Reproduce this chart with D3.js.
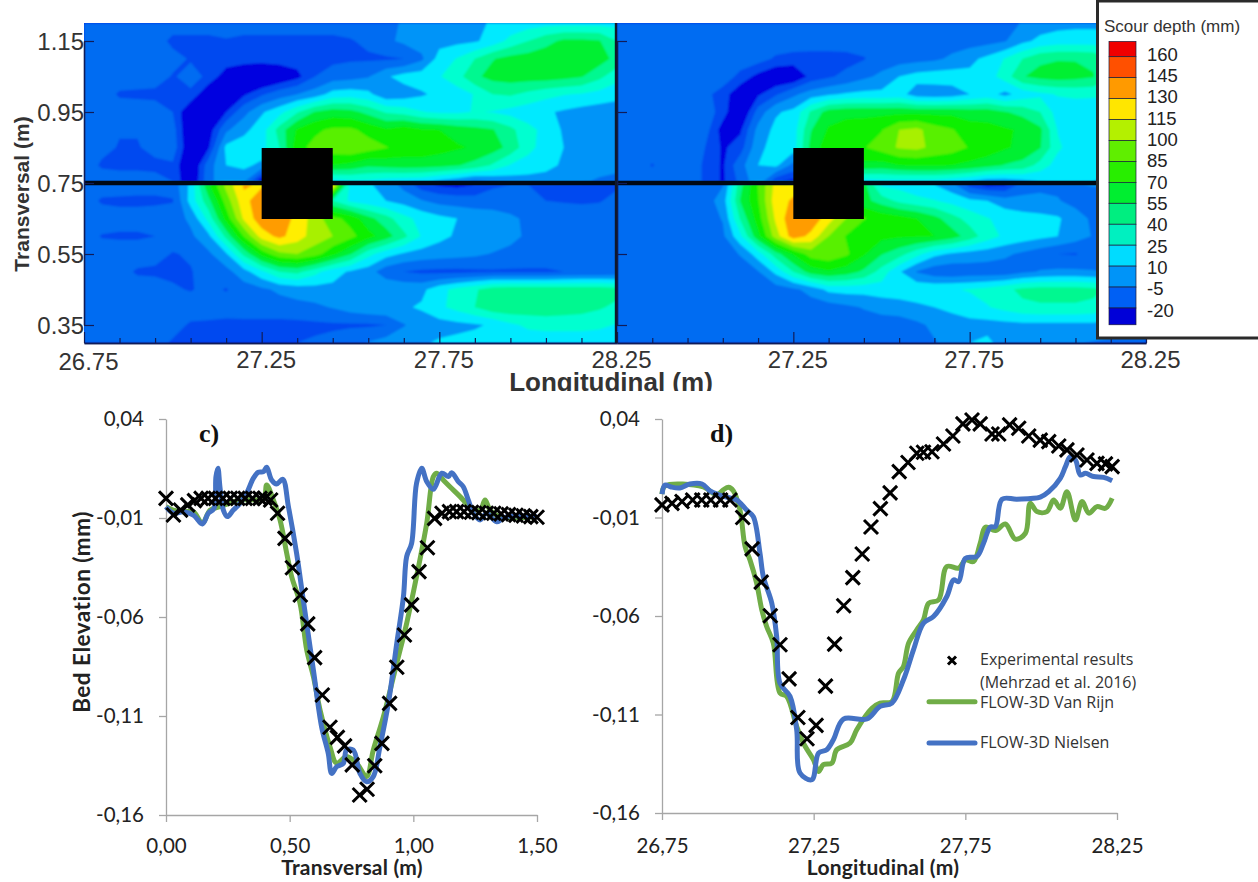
<!DOCTYPE html>
<html>
<head>
<meta charset="utf-8">
<script src="https://cdn.jsdelivr.net/npm/d3@7"></script>
<style>
  html, body { margin: 0; padding: 0; background: #fff; }
  svg { display: block; }
</style>
</head>
<body>
<div id="my_dataviz"></div>
<script>
// Scour maps: grid columns (m), grid rows (m) and depth values (mm)
const longCols = [26.75,26.80,26.85,26.90,26.95,27.00,27.05,27.10,27.15,27.20,27.25,27.30,27.35,27.40,27.45,27.50,27.55,27.60,27.65,27.70,27.75,27.80,27.85,27.90,27.95,28.00,28.05,28.10,28.15,28.20,28.25];
const transRows = [1.20,1.15,1.10,1.05,1.00,0.95,0.90,0.85,0.80,0.755,0.745,0.70,0.65,0.60,0.55,0.50,0.45,0.40,0.35,0.30];

const scourLeft = [
  [-12,-12,-12,-12,-12,-14,-14,-14,-14,-14,-14,-14,-14,-14,-14,-14,-14,-10,-3,2,5,7,8,11,14,18,20,20,20,20,20],
  [-12,-12,-12,-12,-14,-23,-23,-23,-21,-23,-23,-23,-23,-23,-23,-21,-17,-8,-2,2,5,6,8,16,30,40,50,58,58,56,40],
  [-12,-12,-12,-12,-14,-16,-21,-23,-24,-25,-26,-26,-26,-26,-24,-22,-22,-22,-20,-8,16,26,40,54,60,62,64,64,64,62,50],
  [-12,-12,-12,-12,-14,-21,-16,-22,-40,-48,-50,-44,-36,-20,-12,-10,-6,8,16,18,24,34,52,60,62,62,62,60,56,44,30],
  [-12,-12,-22,-23,-23,-22,-22,-44,-48,-34,-22,-12,-5,2,16,18,14,-1,2,8,14,18,26,40,42,36,30,26,24,20,16],
  [-12,-12,-12,-12,-14,-20,-46,-48,-32,-10,8,20,38,56,62,60,50,38,34,26,22,22,26,24,20,16,12,8,4,2,0],
  [-12,-16,-19,-19,-18,-14,-48,-40,-8,6,18,46,72,82,88,88,80,72,78,72,70,64,60,56,44,30,20,8,2,-3,-3],
  [-12,-16,-21,-21,-16,-12,-46,-34,14,18,20,40,80,90,94,98,92,86,80,80,76,72,68,62,50,30,18,10,6,-1,-3],
  [-12,-22,-23,-23,-23,-22,-50,-12,10,14,6,30,40,70,70,66,58,60,62,62,60,56,50,38,24,18,14,8,4,4,-2],
  [-12,-12,-14,-14,-16,-20,-48,-10,6,-2,-44,-36,0,0,18,22,22,18,16,14,6,0,-10,-4,2,4,4,2,-2,-8,-8],
  [-12,-12,-12,-14,-14,-14,14,68,105,132,128,130,130,130,130,18,12,4,-10,-28,-34,-36,-32,-22,-20,-20,-22,-24,-24,-24,-22],
  [-12,-22,-23,-23,-23,-21,16,50,92,126,138,135,120,90,40,22,16,10,4,-4,-10,-12,-14,-14,-14,-16,-20,-21,-22,-21,-16],
  [-12,-12,-14,-14,-12,-12,-2,30,76,118,140,140,125,108,90,80,60,46,30,20,14,10,6,4,-2,-8,-10,-12,-12,-12,-12],
  [-12,-21,-22,-22,-20,-12,-8,6,44,86,122,134,122,108,100,90,76,62,44,24,14,8,6,6,0,-8,-10,-12,-12,-12,-12],
  [-12,-12,-12,-12,-14,-21,-18,-8,8,44,76,96,100,92,74,56,30,16,8,4,2,0,-2,-6,-10,-12,-12,-12,-13,-18,-16],
  [-12,-12,-14,-22,-23,-23,-21,-13,-10,4,22,40,44,30,16,8,2,-14,-20,-23,-24,-24,-23,-22,-22,-22,-22,-20,-18,-18,-16],
  [-12,-12,-12,-12,-12,-18,-21,-16,-21,-12,-8,-2,2,4,6,8,8,8,6,6,20,30,38,48,50,50,50,50,50,50,46],
  [-12,-12,-12,-12,-12,-12,-12,-12,-13,-12,-12,-12,-10,-8,-4,2,6,8,8,12,22,30,40,50,52,50,50,48,46,42,36],
  [-12,-12,-12,-12,-12,-14,-22,-23,-24,-24,-24,-24,-24,-23,-22,-22,-22,-20,-6,2,4,6,8,12,22,28,30,30,30,28,24],
  [-12,-12,-12,-12,-14,-22,-23,-24,-24,-23,-22,-22,-20,-18,-16,-10,-4,2,4,8,12,14,16,16,16,16,16,16,16,16,16]
];

const scourRight = [
  [-12,-12,-12,-12,-12,-12,-12,-12,-12,-12,-12,-12,-12,-12,-12,-12,-12,-12,-12,-12,-12,-12,-10,-4,2,4,6,6,6,4,4],
  [-12,-12,-12,-12,-12,-12,-12,-12,-12,-12,-12,-12,-12,-12,-12,-12,-12,-12,-12,-12,-12,-10,-6,6,14,18,18,18,16,14,12],
  [-12,-12,-12,-12,-12,-12,-12,-12,-14,-22,-25,-26,-26,-25,-21,-12,-12,-10,-8,-2,6,14,26,40,52,54,54,52,40,26,20],
  [-12,-12,-12,-12,-12,-12,-12,-24,-36,-44,-44,-28,-22,-16,-8,-2,10,16,18,18,14,18,32,54,60,62,60,56,40,26,18],
  [-12,-12,-12,-12,-12,-16,-26,-42,-34,-22,-8,2,8,12,14,14,16,2,0,2,10,16,6,16,22,26,28,28,26,22,18],
  [-12,-12,-12,-12,-12,-12,-26,-48,-14,8,14,42,62,66,66,66,66,66,66,66,62,62,56,50,40,18,16,14,12,10,10],
  [-12,-12,-12,-12,-12,-14,-38,-34,0,14,18,54,72,76,78,84,100,104,92,86,78,76,72,68,58,24,16,14,14,12,10],
  [-12,-12,-12,-12,-12,-20,-34,-26,6,16,18,60,80,84,84,92,102,104,96,92,84,80,72,66,56,28,16,14,14,12,10],
  [-12,-12,-21,-12,-12,-22,-34,-10,10,14,-10,40,60,64,66,64,70,72,72,70,66,60,54,50,34,18,16,14,12,10,10],
  [-12,-12,-12,-12,-12,-22,-34,-16,6,-30,-36,-20,0,8,18,20,20,20,20,16,10,2,2,6,10,12,12,10,8,8,8],
  [-12,-12,-12,-12,-12,-12,-6,50,86,120,124,124,124,124,60,22,20,14,10,0,-26,-36,-34,-14,-10,-8,-6,-4,-4,-4,-4],
  [-12,-12,-12,-12,-12,-12,2,56,84,124,132,130,125,100,60,48,36,30,26,20,14,10,2,0,0,-4,-10,-12,-12,-12,-12],
  [-12,-12,-12,-12,-12,-12,-4,42,78,118,142,140,122,100,86,80,76,70,60,46,34,26,20,16,14,12,2,-8,-12,-12,-12],
  [-12,-12,-12,-12,-12,-12,-8,22,66,108,138,126,100,84,76,74,72,72,70,62,48,32,22,18,14,10,2,-6,-12,-12,-12],
  [-12,-12,-12,-12,-12,-12,-12,-4,18,48,72,92,96,88,72,56,46,30,14,8,4,2,-2,-8,-14,-20,-21,-14,-12,-12,-12],
  [-12,-12,-12,-12,-12,-12,-12,-12,-6,14,40,62,68,62,52,34,12,-6,-14,-16,-14,-14,-14,-8,-4,-2,-2,-4,-6,-8,-8],
  [-12,-12,-12,-12,-12,-12,-12,-12,-12,-12,-8,0,14,16,16,18,20,22,22,24,26,30,36,44,46,46,46,44,36,24,14],
  [-12,-12,-12,-12,-12,-12,-12,-12,-12,-12,-12,-12,-12,-8,-4,0,2,6,10,14,20,24,30,36,38,38,38,36,26,16,8],
  [-12,-12,-12,-12,-12,-12,-12,-12,-12,-12,-12,-12,-12,-12,-12,-12,-12,-8,-2,2,4,4,5,6,6,6,6,6,4,4,4],
  [-12,-12,-12,-12,-12,-12,-12,-12,-12,-12,-12,-12,-12,-12,-12,-12,-12,-12,-6,0,10,14,2,-1,-2,-3,-4,-6,-8,-10,-12]
];

// Legend levels and colours of the map, from the deepest band up
const legendLevels = [160,145,130,115,100,85,70,55,40,25,10,-5,-20];
const legendColors = ["#f00000","#ff5000","#ff9a00","#ffe600","#b4f000","#60ee00","#28ee00","#00ee30","#00ee80","#00f0c0","#00dcff","#0094f8","#0060f4","#0000d8"];
const mapThresholds = [-32,-20,-5,10,25,40,55,70,85,100,115,130,145,160];
const mapColors = ["#0000e0","#0048f0","#006cf2","#0094f8","#00eaff","#00ffd0","#00f890","#00f030","#10f000","#58f000","#a8f000","#ffee00","#ff9c00","#ff5000","#f00000"];

const mapLongTicks = [26.75,27.25,27.75,28.25];
const mapLongMinor = [26.85,26.95,27.05,27.15,27.35,27.45,27.55,27.65,27.85,27.95,28.05,28.15];
const mapTransTicks = [1.15,0.95,0.75,0.55,0.35];

// Profile c): experimental marks, Van Rijn and Nielsen curves
const cExpX = [0,.03,.059,.088,.115,.142,.17,.20,.23,.26,.29,.32,.35,.38,.40,.423,.451,.481,.511,.543,.573,.601,.632,.663,.693,.722,.753,.783,.813,.844,.873,.904,.933,.964,.993,1.023,1.057,1.086,1.116,1.146,1.175,1.205,1.235,1.265,1.295,1.325,1.355,1.385,1.415,1.445,1.475,1.50];
const cExpY = [-.0001,-.0085,-.006,-.0034,-.0012,-.0001,-.0001,-.0001,-.0001,-.0001,-.0001,-.0001,-.0001,-.0001,-.0001,-.0009,-.0076,-.0203,-.0351,-.0489,-.0635,-.0805,-.0994,-.1157,-.1208,-.1251,-.1347,-.1499,-.147,-.1351,-.1238,-.1036,-.0854,-.0691,-.0539,-.0371,-.025,-.0102,-.0076,-.0068,-.0068,-.0068,-.0071,-.0073,-.0076,-.0076,-.0079,-.0083,-.0086,-.0089,-.0093,-.0096];
const cGreenX = [0,.03,.07,.111,.147,.178,.218,.299,.394,.407,.434,.461,.488,.508,.542,.569,.596,.623,.663,.69,.73,.771,.811,.838,.879,.933,.973,1.013,1.054,1.081,1.094,1.121,1.148,1.189,1.229,1.27,1.29,1.31,1.35,1.499];
const cGreenY = [-.0043,-.006,-.0068,-.0068,-.0127,-.006,-.0043,-.0009,-.0001,.0067,-.0009,-.011,-.0278,-.0396,-.0531,-.0767,-.0901,-.107,-.1255,-.1339,-.1305,-.1339,-.1406,-.1272,-.1103,-.0834,-.0632,-.0396,-.0127,.0109,.0126,.0092,.0058,.0008,-.0043,-.006,-.0009,-.006,-.0093,-.0093];
const cBlueX = [0,.03,.07,.111,.147,.171,.194,.202,.21,.218,.232,.248,.272,.299,.326,.353,.373,.394,.407,.427,.447,.472,.495,.528,.555,.596,.629,.656,.67,.69,.717,.73,.757,.784,.811,.838,.865,.899,.933,.96,.973,.993,1.013,1.034,1.054,1.081,1.115,1.142,1.155,1.182,1.202,1.222,1.243,1.27,1.296,1.337,1.377,1.499];
const cBlueY = [-.0043,-.0076,-.0068,-.0085,-.013,-.0076,-.0051,.0109,.0151,.0058,-.006,-.0093,-.006,-.0026,.0025,.01,.0131,.0134,.0156,.0092,.0072,.0095,-.0043,-.0278,-.0514,-.0868,-.1154,-.1289,-.139,-.1356,-.1339,-.1272,-.1272,-.139,-.1432,-.1406,-.1255,-.1036,-.0733,-.0497,-.0295,-.0228,.0075,.0151,.0084,.0045,.0126,.0109,.0129,.0084,.0058,-.0009,-.0076,-.011,-.0076,-.0119,-.0093,-.0093];

// Profile d)
const dExpX = [26.75,26.783,26.816,26.851,26.881,26.911,26.943,26.974,27.016,27.047,27.077,27.107,27.139,27.169,27.198,27.228,27.258,27.289,27.319,27.349,27.379,27.41,27.439,27.47,27.502,27.532,27.561,27.59,27.612,27.64,27.678,27.709,27.742,27.772,27.799,27.838,27.86,27.896,27.926,27.959,27.997,28.025,28.058,28.085,28.118,28.151,28.184,28.212,28.234];
const dExpY = [-.0036,-.0028,-.0019,-.0011,-.0011,-.0011,-.0011,-.0011,-.01,-.0259,-.0428,-.0599,-.0746,-.0919,-.1115,-.1223,-.1155,-.0956,-.0743,-.0548,-.0405,-.0285,-.0148,-.0055,.0025,.0133,.0179,.0226,.0231,.0234,.0273,.0314,.0375,.0395,.0375,.0324,.0324,.037,.0353,.0314,.0293,.0285,.0263,.0243,.0217,.0192,.0175,.0172,.0158];
const dGreenX = [26.75,26.76,26.886,26.93,26.952,26.969,26.985,27.007,27.024,27.04,27.062,27.079,27.095,27.117,27.139,27.161,27.194,27.216,27.249,27.266,27.282,27.31,27.326,27.37,27.392,27.442,27.469,27.508,27.53,27.546,27.563,27.59,27.612,27.629,27.662,27.689,27.728,27.75,27.777,27.799,27.816,27.849,27.882,27.915,27.948,27.964,27.986,28.019,28.041,28.063,28.085,28.113,28.135,28.157,28.184,28.212,28.234];
const dGreenY = [.0019,.006,.0055,.0015,.004,.0053,.0036,-.0062,-.0248,-.0315,-.0433,-.0569,-.0653,-.0738,-.0991,-.1008,-.116,-.1245,-.1329,-.1389,-.1355,-.1347,-.1279,-.1245,-.1177,-.1068,-.1042,-.1034,-.089,-.0856,-.0738,-.067,-.0619,-.0535,-.0518,-.0349,-.0357,-.0315,-.0324,-.0231,-.0149,-.0166,-.0133,-.021,-.018,-.0028,-.007,-.007,-.0011,-.0053,.0031,-.0112,-.0019,-.0078,-.0045,-.0053,-.0002];
const dBlueX = [26.75,26.76,26.78,26.809,26.842,26.882,26.908,26.941,26.963,26.996,27.029,27.051,27.073,27.084,27.112,27.128,27.139,27.172,27.194,27.205,27.244,27.266,27.293,27.315,27.348,27.425,27.469,27.508,27.546,27.579,27.612,27.645,27.689,27.711,27.728,27.75,27.788,27.81,27.832,27.849,27.871,27.92,27.997,28.025,28.063,28.08,28.096,28.113,28.129,28.146,28.173,28.206,28.234];
const dBlueY = [.0019,.0065,.0055,.005,.007,.007,.0035,.0014,.0003,-.0011,-.0062,-.0096,-.0281,-.04,-.0535,-.0704,-.0941,-.1008,-.1177,-.1397,-.1431,-.1296,-.1279,-.1228,-.1123,-.1123,-.1059,-.1042,-.0924,-.0772,-.0636,-.0603,-.0501,-.0417,-.0425,-.0307,-.0298,-.0231,-.0149,-.0146,-.0007,-.0007,.0003,.0031,.0099,.0158,.0209,.0192,.0116,.0124,.0108,.0104,.0087];

const profileTicksY = [.04,-.01,-.06,-.11,-.16];
const cTicksX = [0,.5,1,1.5];
const dTicksX = [26.75,27.25,27.75,28.25];

const green = "#70ad47", blue = "#4472c4", axisGrey = "#a6a6a6", frameBlue = "#101c58";
const mapFont = "'Liberation Sans', Arial, sans-serif";
const chartFont = "Lato, 'Noto Sans', sans-serif";

const svg = d3.select("#my_dataviz")
    .append("svg")
    .attr("width", 1258)
    .attr("height", 882)
    .style("background", "#fff");

const defs = svg.append("defs");
defs.append("filter").attr("id", "soft")
    .append("feGaussianBlur").attr("stdDeviation", 0.9);
defs.append("clipPath").attr("id", "labelCut")
    .append("rect").attr("x", 0).attr("y", 366).attr("width", 1258).attr("height", 25);

// Top row, one contour map per panel
const yMap = d3.scaleLinear().domain([0.35, 1.15]).range([325, 41]);
const contours = d3.contours().size([longCols.length, transRows.length]).thresholds(mapThresholds);
const gridPos = longCols.map((d, i) => i + 0.5);
const gridRowPos = transRows.map((d, i) => i + 0.5);

function drawMap(values, xLeft, xRight, id, tickLabels) {
  const xMap = d3.scaleLinear().domain([26.75, 28.25]).range([xLeft, xRight]);
  const xGrid = d3.scaleLinear().domain(gridPos).range(longCols.map(xMap)).clamp(true);
  const yGrid = d3.scaleLinear().domain(gridRowPos).range(transRows.map(yMap)).clamp(true);
  const path = d3.geoPath(d3.geoTransform({
    point(x, y) { this.stream.point(xGrid(x), yGrid(y)); }
  }));

  defs.append("clipPath").attr("id", id)
      .append("rect").attr("x", xLeft).attr("y", 23).attr("width", xRight - xLeft).attr("height", 320);

  const g = svg.append("g").attr("clip-path", `url(#${id})`);
  const inner = g.append("g").attr("filter", "url(#soft)");
  inner.append("rect")
      .attr("x", xLeft - 4).attr("y", 19).attr("width", xRight - xLeft + 8).attr("height", 328)
      .attr("fill", mapColors[0]);
  inner.selectAll("path")
      .data(contours(values.flat()))
      .join("path")
      .attr("d", path)
      .attr("fill", (d, i) => mapColors[i + 1]);

  // pier and flume centre line
  g.append("line")
      .attr("x1", xLeft).attr("x2", xRight)
      .attr("y1", yMap(0.75)).attr("y2", yMap(0.75))
      .attr("stroke", "#000814").attr("stroke-width", 4.5);
  g.append("rect")
      .attr("x", xMap(27.25)).attr("width", xMap(27.45) - xMap(27.25))
      .attr("y", yMap(0.85) + 0.5).attr("height", yMap(0.65) - yMap(0.85))
      .attr("fill", "#000");

  // ticks point into the plot
  const tickStyle = sel => {
    sel.select(".domain").attr("stroke", frameBlue).attr("stroke-width", 1.6);
    sel.selectAll("line").attr("stroke", frameBlue).attr("stroke-width", 1.2);
    sel.selectAll("text").remove();
  };
  svg.append("g").attr("transform", "translate(0,343)")
      .call(d3.axisBottom(xMap).tickValues(mapLongMinor).tickSize(-5).tickSizeOuter(0)).call(tickStyle);
  svg.append("g").attr("transform", "translate(0,343)")
      .call(d3.axisBottom(xMap).tickValues(mapLongTicks).tickSize(-11).tickSizeOuter(0)).call(tickStyle);
  svg.append("g").attr("transform", `translate(${xLeft},0)`)
      .call(d3.axisLeft(yMap).tickValues(mapTransTicks).tickSize(-10).tickSizeOuter(0)).call(tickStyle);

  // tick labels
  svg.append("g").selectAll("text")
      .data(tickLabels)
      .join("text")
      .attr("x", d => xMap(d) + 4.5)
      .attr("y", d => d === 26.75 ? 370 : 368)
      .attr("text-anchor", "middle")
      .attr("font-family", mapFont).attr("font-size", 24).attr("fill", "#333")
      .text(d3.format(".2f"));
}

drawMap(scourLeft, 84, 617, "mapLeft", mapLongTicks);
drawMap(scourRight, 617, 1146, "mapRight", mapLongTicks.slice(1));

svg.append("line")
    .attr("x1", 616).attr("x2", 616).attr("y1", 23).attr("y2", 343)
    .attr("stroke", "#10182c").attr("stroke-width", 2.4);

svg.append("g").selectAll("text")
    .data(mapTransTicks)
    .join("text")
    .attr("x", 84).attr("y", d => yMap(d) + 8.5)
    .attr("text-anchor", "end")
    .attr("font-family", mapFont).attr("font-size", 24).attr("fill", "#333")
    .text(d3.format(".2f"));

svg.append("text")
    .attr("transform", "translate(29,194) rotate(-90)")
    .attr("text-anchor", "middle")
    .attr("font-family", mapFont).attr("font-weight", "bold").attr("font-size", 21).attr("fill", "#333")
    .text("Transversal (m)");

svg.append("g").attr("clip-path", "url(#labelCut)")
    .append("text")
    .attr("x", 611).attr("y", 391)
    .attr("text-anchor", "middle")
    .attr("font-family", mapFont).attr("font-weight", "bold").attr("font-size", 26).attr("fill", "#333")
    .text("Longitudinal (m)");

// Colour legend of the maps
const legend = svg.append("g");
legend.append("rect")
    .attr("x", 1097.5).attr("y", 1).attr("width", 170).attr("height", 337)
    .attr("fill", "#fff").attr("stroke", "#2a2a2a").attr("stroke-width", 3);
legend.append("text")
    .attr("x", 1104).attr("y", 32)
    .attr("font-family", mapFont).attr("font-size", 17).attr("fill", "#333")
    .text("Scour depth (mm)");

const yLegend = d3.scaleLinear().domain([160, -20]).range([56.7, 308]);
const bandEdges = [172].concat(legendLevels, [-32]);
legend.selectAll("rect.band")
    .data(legendColors)
    .join("rect")
    .attr("class", "band")
    .attr("x", 1109).attr("width", 27)
    .attr("y", (d, i) => yLegend(bandEdges[i]) + (i === 0 ? 1.5 : 0))
    .attr("height", (d, i) => yLegend(bandEdges[i + 1]) - yLegend(bandEdges[i]) - (i === 0 ? 1.5 : 0))
    .attr("fill", d => d)
    .attr("stroke", "#1a1a3a").attr("stroke-width", 0.7);
legend.selectAll("text.level")
    .data(legendLevels)
    .join("text")
    .attr("class", "level")
    .attr("x", 1147)
    .attr("y", d => d3.scaleLinear().domain([160, -20]).range([54, 310])(d) + 6.5)
    .attr("font-family", mapFont).attr("font-size", 18.5).attr("fill", "#222")
    .text(d => d);

// Bottom row, bed elevation profiles
const commaFmt = f => d => d3.format(f)(d).replace(".", ",").replace("\u2212", "-");
const crossMark = "M-7,-7L7,7M-7,7L7,-7";

function drawProfile(opt) {
  const x = d3.scaleLinear().domain(opt.xDomain).range(opt.xRange);
  const y = d3.scaleLinear().domain([-0.16, 0.04]).range([opt.bottom, 419]);
  const g = svg.append("g");

  const xAxis = g.append("g").attr("transform", `translate(0,${opt.bottom})`)
      .call(d3.axisBottom(x).tickValues(opt.xTicks).tickFormat(commaFmt(".2f")).tickSize(7).tickSizeOuter(0));
  const yAxis = g.append("g").attr("transform", `translate(${opt.xRange[0]},0)`)
      .call(d3.axisLeft(y).tickValues(profileTicksY).tickFormat(commaFmt(".2f")).tickSize(7).tickSizeOuter(0));
  [xAxis, yAxis].forEach(a => {
    a.selectAll(".domain, line").attr("stroke", axisGrey).attr("stroke-width", 1.3);
    a.selectAll("text").attr("font-family", chartFont).attr("font-size", 20.5).attr("fill", "#222");
  });
  xAxis.selectAll("text").attr("y", 852.5 - opt.bottom).attr("dy", 0);
  yAxis.selectAll("text").attr("x", -22);

  const line = d3.line()
      .x(d => x(d[0]))
      .y(d => y(d[1]))
      .curve(d3.curveCatmullRom.alpha(0.5));

  g.append("path")
      .attr("d", line(d3.zip(opt.greenX, opt.greenY)))
      .attr("fill", "none").attr("stroke", green).attr("stroke-width", 5).attr("stroke-linejoin", "round");
  g.append("path")
      .attr("d", line(d3.zip(opt.blueX, opt.blueY)))
      .attr("fill", "none").attr("stroke", blue).attr("stroke-width", 5).attr("stroke-linejoin", "round");

  g.selectAll("path.mark")
      .data(d3.zip(opt.expX, opt.expY))
      .join("path")
      .attr("class", "mark")
      .attr("d", crossMark)
      .attr("transform", d => `translate(${x(d[0])},${y(d[1])})`)
      .attr("fill", "none").attr("stroke", "#000").attr("stroke-width", 3);

  g.append("text")
      .attr("x", opt.tagX).attr("y", 442)
      .attr("font-family", "'Liberation Serif', serif").attr("font-weight", "bold").attr("font-size", 26).attr("fill", "#111")
      .text(opt.tag);
  g.append("text")
      .attr("x", opt.labelX).attr("y", 875)
      .attr("text-anchor", "middle")
      .attr("font-family", chartFont).attr("font-weight", "bold").attr("font-size", 21)
      .attr("letter-spacing", 0.2).attr("fill", "#222")
      .text(opt.label);
}

drawProfile({
  xDomain: [0, 1.5], xRange: [166, 537], bottom: 815, xTicks: cTicksX,
  expX: cExpX, expY: cExpY, greenX: cGreenX, greenY: cGreenY, blueX: cBlueX, blueY: cBlueY,
  tag: "c)", tagX: 199, label: "Transversal (m)", labelX: 352
});
drawProfile({
  xDomain: [26.75, 28.25], xRange: [662, 1117], bottom: 813, xTicks: dTicksX,
  expX: dExpX, expY: dExpY, greenX: dGreenX, greenY: dGreenY, blueX: dBlueX, blueY: dBlueY,
  tag: "d)", tagX: 710, label: "Longitudinal (m)", labelX: 883
});

svg.append("text")
    .attr("transform", "translate(90,612) rotate(-90)")
    .attr("text-anchor", "middle")
    .attr("font-family", chartFont).attr("font-weight", "bold").attr("font-size", 22.5)
    .attr("letter-spacing", 0.5).attr("fill", "#222")
    .text("Bed Elevation (mm)");

// Legend of profile d)
const key = svg.append("g");
key.append("path")
    .attr("d", "M-4,-4L4,4M-4,4L4,-4")
    .attr("transform", "translate(952,660.5)")
    .attr("fill", "none").attr("stroke", "#000").attr("stroke-width", 3);
const keyLines = [["FLOW-3D Van Rijn", green, 701.7], ["FLOW-3D Nielsen", blue, 743]];
key.selectAll("line")
    .data(keyLines)
    .join("line")
    .attr("x1", 929).attr("x2", 975)
    .attr("y1", d => d[2]).attr("y2", d => d[2])
    .attr("stroke", d => d[1]).attr("stroke-width", 5).attr("stroke-linecap", "round");
key.selectAll("text")
    .data([["Experimental results", 665], ["(Mehrzad et al. 2016)", 688], ["FLOW-3D Van Rijn", 708], ["FLOW-3D Nielsen", 748]])
    .join("text")
    .attr("x", 980).attr("y", d => d[1])
    .attr("font-family", "'Open Sans', sans-serif").attr("font-size", 16).attr("fill", "#333")
    .text(d => d[0]);
</script>
</body>
</html>
